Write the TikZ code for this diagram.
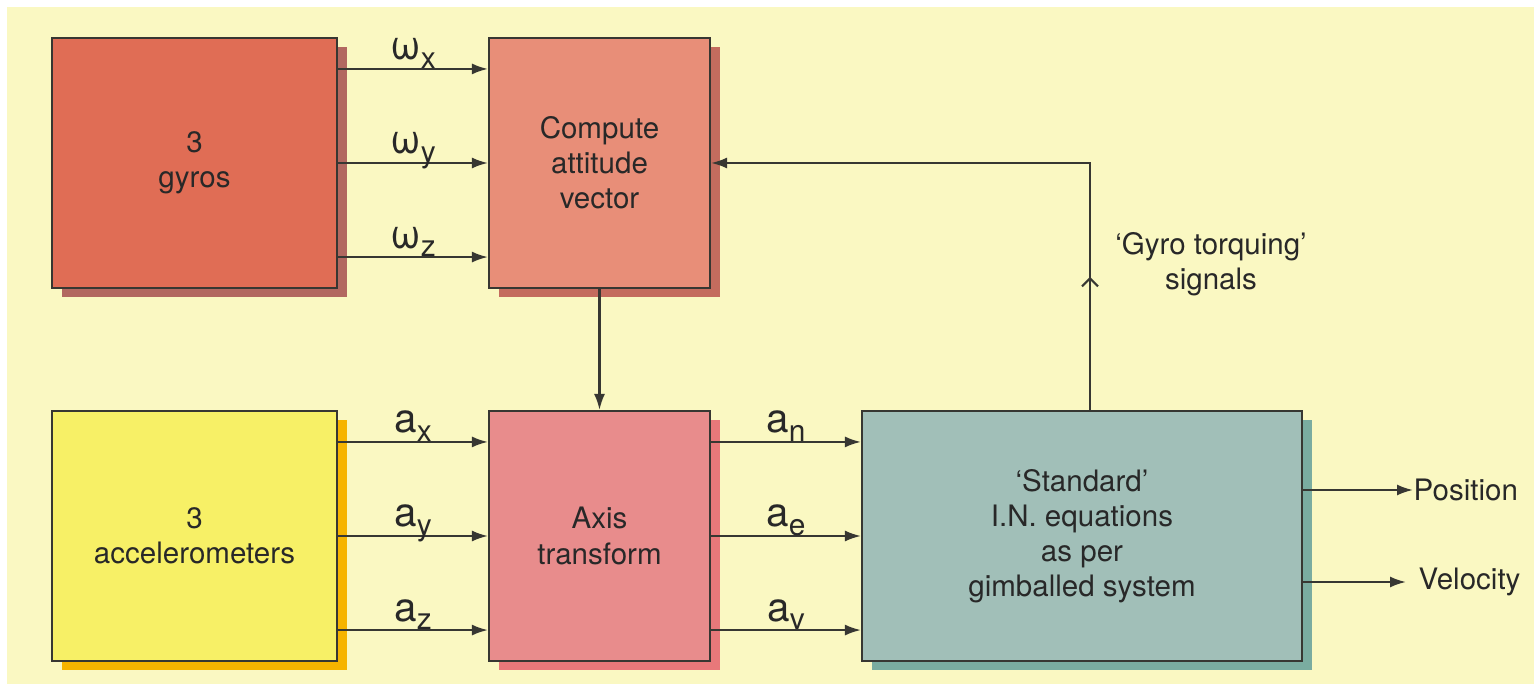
\documentclass[tikz,border=0pt]{standalone}
\usepackage{fontspec}
\setmainfont{TeX Gyre Heros}
\usetikzlibrary{arrows.meta,shadows,decorations.markings}

\definecolor{bgc}{RGB}{250,248,194}
\definecolor{linec}{RGB}{55,55,50}
\definecolor{textc}{RGB}{40,40,40}
\definecolor{gyroc}{RGB}{224,109,85}
\definecolor{gyrosh}{RGB}{178,104,96}
\definecolor{compc}{RGB}{232,142,120}
\definecolor{compsh}{RGB}{196,108,94}
\definecolor{accc}{RGB}{247,240,102}
\definecolor{accsh}{RGB}{246,180,0}
\definecolor{axisc}{RGB}{232,140,140}
\definecolor{axissh}{RGB}{232,120,122}
\definecolor{stdc}{RGB}{161,191,184}
\definecolor{stdsh}{RGB}{122,172,160}

\newcommand{\sgl}[2]{#1\raisebox{-0.4ex}{\fontsize{8.5}{8.5}\selectfont #2}}

\begin{document}
\begin{tikzpicture}[
    x=0.1mm, y=-0.1mm,
    blk/.style 2 args={draw=linec, line width=0.6pt, fill=#1, drop shadow={shadow xshift=1mm, shadow yshift=-0.9mm, fill=#2, opacity=1}, minimum height=25mm, inner sep=0pt, align=center, text=textc, font=\fontsize{8.4}{10}\selectfont},
    sig/.style={draw=linec, line width=0.6pt, -{Latex[length=1.6mm,width=1.1mm]}},
    lbl/.style={text=textc, font=\fontsize{11.5}{13}\selectfont, inner sep=0pt, anchor=base, yshift=0.9mm},
    txt/.style={text=textc, font=\fontsize{8.4}{10}\selectfont, inner sep=0pt, align=center}
]
% background
\fill[white] (0,0) rectangle (1534,684);
\fill[bgc] (7,7) rectangle (1534,684);
\useasboundingbox (0,0) rectangle (1534,684);

% blocks
\node [blk={gyroc}{gyrosh}, minimum width=28.5mm] (gyro) at (194.5,163) {3\\gyros};
\node [blk={compc}{compsh}, minimum width=22.1mm] (comp) at (599.5,163) {Compute\\attitude\\vector};
\node [blk={accc}{accsh}, minimum width=28.5mm] (acc) at (194.5,536) {3\\accelerometers};
\node [blk={axisc}{axissh}, minimum width=22.1mm] (axis) at (599.5,536) {Axis\\transform};
\node [blk={stdc}{stdsh}, minimum width=44mm] (std) at (1082,536) {‘Standard’\\I.N. equations\\as per\\gimballed system};

% outputs
\node [txt, anchor=west] (pos) at (1413,490) {Position};
\node [txt, anchor=west] (vel) at (1418,582) {Velocity};
\node [txt] (torq) at (1211,264) {‘Gyro torquing’\\signals};

% gyro rates
\draw[sig] ([yshift=-3.2mm]gyro.north east) -- node[lbl]{\sgl{ω}{x}} ([yshift=-3.2mm]comp.north west);
\draw[sig] (gyro.east) -- node[lbl]{\sgl{ω}{y}} (comp.west);
\draw[sig] ([yshift=3.2mm]gyro.south east) -- node[lbl]{\sgl{ω}{z}} ([yshift=3.2mm]comp.south west);

% accelerations
\draw[sig] ([yshift=-3.2mm]acc.north east) -- node[lbl]{\sgl{a}{x}} ([yshift=-3.2mm]axis.north west);
\draw[sig] (acc.east) -- node[lbl]{\sgl{a}{y}} (axis.west);
\draw[sig] ([yshift=3.2mm]acc.south east) -- node[lbl]{\sgl{a}{z}} ([yshift=3.2mm]axis.south west);

\draw[sig] ([yshift=-3.2mm]axis.north east) -- node[lbl]{\sgl{a}{n}} ([yshift=-3.2mm]std.north west);
\draw[sig] (axis.east) -- node[lbl]{\sgl{a}{e}} (std.west);
\draw[sig] ([yshift=3.2mm]axis.south east) -- node[lbl]{\sgl{a}{v}} ([yshift=3.2mm]std.south west);

% attitude and feedback
\draw[sig] (comp) -- (axis);
\draw[sig, postaction=decorate, decoration={markings, mark=at position 13.3mm with {\arrow{Straight Barb[length=0.8mm,width=1.6mm]}}}] ([xshift=0.8mm]std.north) |- (comp.east);

\draw[sig] (std.east |- pos.west) -- (pos.west);
\draw[sig] (std.east |- vel.west) -- ([xshift=-1.2mm]vel.west);

\end{tikzpicture}
\end{document}
